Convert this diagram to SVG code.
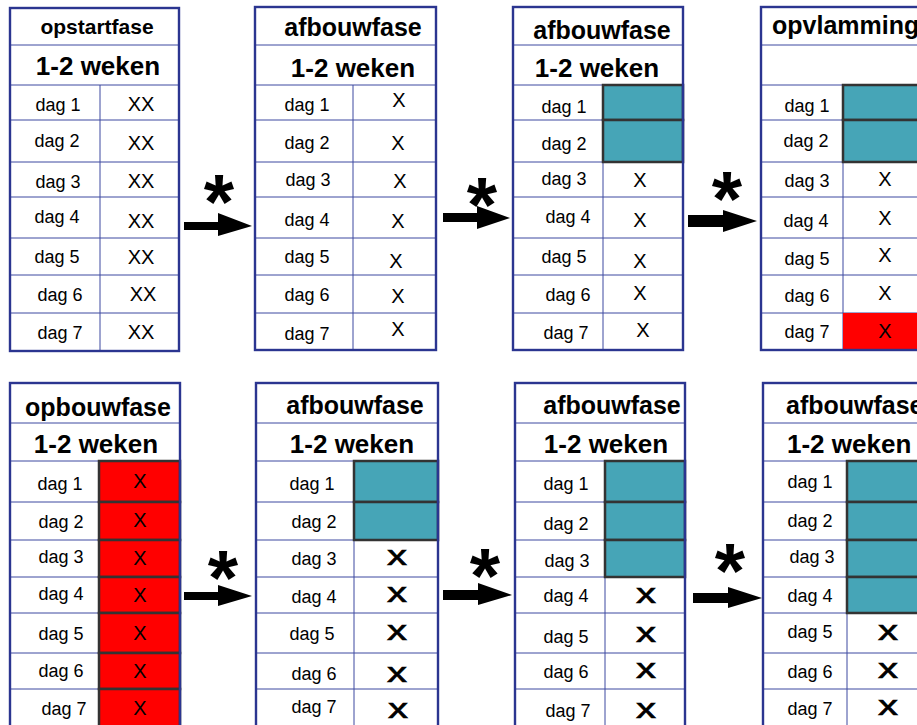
<svg xmlns="http://www.w3.org/2000/svg" width="917" height="725" viewBox="0 0 917 725">
<style>
.bg{fill:#ffffff}
.in{stroke:#3c48a0;stroke-width:1;fill:none}
.out{stroke:#2b3590;stroke-width:2.4;fill:none}
.teal{fill:#46a5b7;stroke:#333333;stroke-width:2.5}
.red{fill:#ff0000;stroke:#333333;stroke-width:2.5}
.redn{fill:#ff0000}
text{font-family:"Liberation Sans",Arial,sans-serif;fill:#000}
.t{font-size:25px;font-weight:bold;text-anchor:middle}
.ts{font-size:21px;font-weight:bold;text-anchor:middle}
.w{font-size:26px;font-weight:bold;text-anchor:middle}
.d{font-size:18px;text-anchor:middle}
.x{font-size:20px;text-anchor:middle}
.xb{font-size:27px;text-anchor:middle;stroke:#000;stroke-width:0.6}
.ast{font-size:78px;font-weight:bold;text-anchor:middle}
.arr{fill:#000}
</style>
<rect width="917" height="725" fill="#ffffff"/>

<g id="table1">
<rect class="bg" x="10" y="8" width="169" height="343"/>
<path class="in" d="M10 45H179M10 85H179M10 120H179M10 162H179M10 197H179M10 238H179M10 275H179M10 313H179M100 85V351"/>
<rect class="out" x="10" y="8" width="169" height="343"/>
<text class="ts" x="97" y="34">opstartfase</text>
<text class="w" x="98" y="75">1-2 weken</text>
<text class="d" x="58" y="111">dag 1</text><text class="x" x="141" y="111">XX</text>
<text class="d" x="57" y="147">dag 2</text><text class="x" x="141" y="150">XX</text>
<text class="d" x="58" y="188">dag 3</text><text class="x" x="141" y="188">XX</text>
<text class="d" x="57" y="223">dag 4</text><text class="x" x="141" y="228">XX</text>
<text class="d" x="57" y="263">dag 5</text><text class="x" x="141" y="264">XX</text>
<text class="d" x="60" y="301">dag 6</text><text class="x" x="143" y="301">XX</text>
<text class="d" x="60" y="339">dag 7</text><text class="x" x="141" y="339">XX</text>
</g>

<g id="table2">
<rect class="bg" x="255" y="7" width="181" height="343"/>
<path class="in" d="M255 45H436M255 85H436M255 120H436M255 162H436M255 197H436M255 238H436M255 275H436M255 313H436M353 85V350"/>
<rect class="out" x="255" y="7" width="181" height="343"/>
<text class="t" x="353" y="36">afbouwfase</text>
<text class="w" x="353" y="77">1-2 weken</text>
<text class="d" x="307" y="111">dag 1</text><text class="x" x="399" y="107">X</text>
<text class="d" x="307" y="149">dag 2</text><text class="x" x="398" y="150">X</text>
<text class="d" x="308" y="186">dag 3</text><text class="x" x="400" y="188">X</text>
<text class="d" x="307" y="226">dag 4</text><text class="x" x="398" y="228">X</text>
<text class="d" x="307" y="263">dag 5</text><text class="x" x="396" y="268">X</text>
<text class="d" x="307" y="301">dag 6</text><text class="x" x="398" y="303">X</text>
<text class="d" x="307" y="340">dag 7</text><text class="x" x="398" y="336">X</text>
</g>

<g id="table3">
<rect class="bg" x="513" y="7" width="170" height="343"/>
<path class="in" d="M513 45H683M513 85H683M513 120H683M513 162H683M513 197H683M513 238H683M513 275H683M513 313H683M603 85V350"/>
<rect class="teal" x="603" y="85" width="80" height="35"/>
<rect class="teal" x="603" y="120" width="80" height="42"/>
<rect class="out" x="513" y="7" width="170" height="343"/>
<text class="t" x="602" y="39">afbouwfase</text>
<text class="w" x="597" y="77">1-2 weken</text>
<text class="d" x="564" y="113">dag 1</text>
<text class="d" x="564" y="150">dag 2</text>
<text class="d" x="564" y="185">dag 3</text><text class="x" x="640" y="187">X</text>
<text class="d" x="568" y="223">dag 4</text><text class="x" x="640" y="227">X</text>
<text class="d" x="564" y="263">dag 5</text><text class="x" x="640" y="268">X</text>
<text class="d" x="568" y="301">dag 6</text><text class="x" x="640" y="300">X</text>
<text class="d" x="566" y="339">dag 7</text><text class="x" x="643" y="337">X</text>
</g>

<g id="table4">
<rect class="bg" x="761" y="7" width="170" height="343"/>
<path class="in" d="M761 45H931M761 85H931M761 120H931M761 162H931M761 197H931M761 238H931M761 275H931M761 313H931M843 85V350"/>
<rect class="teal" x="843" y="85" width="88" height="35"/>
<rect class="teal" x="843" y="120" width="88" height="42"/>
<rect class="redn" x="843" y="313" width="88" height="37"/>
<rect class="out" x="761" y="7" width="170" height="343"/>
<text class="t" x="772" y="34" style="text-anchor:start">opvlamming</text>
<text class="d" x="807" y="112">dag 1</text>
<text class="d" x="806" y="147">dag 2</text>
<text class="d" x="807" y="187">dag 3</text><text class="x" x="885" y="186">X</text>
<text class="d" x="806" y="227">dag 4</text><text class="x" x="885" y="225">X</text>
<text class="d" x="807" y="265">dag 5</text><text class="x" x="885" y="262">X</text>
<text class="d" x="807" y="302">dag 6</text><text class="x" x="885" y="300">X</text>
<text class="d" x="807" y="338">dag 7</text><text class="x" x="885" y="338">X</text>
</g>

<g id="table5">
<rect class="bg" x="10" y="383" width="170" height="360"/>
<path class="in" d="M10 423H180M10 461H180M10 502H180M10 540H180M10 577H180M10 613H180M10 653H180M10 689H180M99 461V743"/>
<rect class="red" x="99" y="461" width="81" height="41"/>
<rect class="red" x="99" y="502" width="81" height="38"/>
<rect class="red" x="99" y="540" width="81" height="37"/>
<rect class="red" x="99" y="577" width="81" height="36"/>
<rect class="red" x="99" y="613" width="81" height="40"/>
<rect class="red" x="99" y="653" width="81" height="36"/>
<rect class="red" x="99" y="689" width="81" height="50"/>
<rect class="out" x="10" y="383" width="170" height="360"/>
<text class="t" x="98" y="416">opbouwfase</text>
<text class="w" x="96" y="453">1-2 weken</text>
<text class="d" x="60" y="490">dag 1</text><text class="x" x="140" y="488">X</text>
<text class="d" x="61" y="528">dag 2</text><text class="x" x="140" y="527">X</text>
<text class="d" x="61" y="563">dag 3</text><text class="x" x="140" y="565">X</text>
<text class="d" x="61" y="600">dag 4</text><text class="x" x="140" y="602">X</text>
<text class="d" x="61" y="640">dag 5</text><text class="x" x="140" y="640">X</text>
<text class="d" x="61" y="677">dag 6</text><text class="x" x="140" y="678">X</text>
<text class="d" x="64" y="715">dag 7</text><text class="x" x="140" y="715">X</text>
</g>

<g id="table6">
<rect class="bg" x="256" y="383" width="182" height="360"/>
<path class="in" d="M256 423H438M256 461H438M256 502H438M256 540H438M256 577H438M256 613H438M256 653H438M256 689H438M354 461V743"/>
<rect class="teal" x="354" y="461" width="84" height="41"/>
<rect class="teal" x="354" y="502" width="84" height="38"/>
<rect class="out" x="256" y="383" width="182" height="360"/>
<text class="t" x="355" y="414">afbouwfase</text>
<text class="w" x="352" y="453">1-2 weken</text>
<text class="d" x="312" y="490">dag 1</text>
<text class="d" x="314" y="528">dag 2</text>
<text class="d" x="314" y="565">dag 3</text><text class="xb" x="397" y="565" textLength="20" lengthAdjust="spacingAndGlyphs">x</text>
<text class="d" x="314" y="603">dag 4</text><text class="xb" x="397" y="602" textLength="20" lengthAdjust="spacingAndGlyphs">x</text>
<text class="d" x="312" y="640">dag 5</text><text class="xb" x="397" y="640" textLength="20" lengthAdjust="spacingAndGlyphs">x</text>
<text class="d" x="314" y="680">dag 6</text><text class="xb" x="397" y="682" textLength="20" lengthAdjust="spacingAndGlyphs">x</text>
<text class="d" x="314" y="713">dag 7</text><text class="xb" x="398" y="718" textLength="20" lengthAdjust="spacingAndGlyphs">x</text>
</g>

<g id="table7">
<rect class="bg" x="515" y="383" width="170" height="360"/>
<path class="in" d="M515 423H685M515 461H685M515 502H685M515 540H685M515 577H685M515 613H685M515 653H685M515 689H685M605 461V743"/>
<rect class="teal" x="605" y="461" width="80" height="41"/>
<rect class="teal" x="605" y="502" width="80" height="38"/>
<rect class="teal" x="605" y="540" width="80" height="37"/>
<rect class="out" x="515" y="383" width="170" height="360"/>
<text class="t" x="612" y="414">afbouwfase</text>
<text class="w" x="606" y="453">1-2 weken</text>
<text class="d" x="566" y="490">dag 1</text>
<text class="d" x="566" y="530">dag 2</text>
<text class="d" x="567" y="567">dag 3</text>
<text class="d" x="566" y="602">dag 4</text><text class="xb" x="646" y="603" textLength="20" lengthAdjust="spacingAndGlyphs">x</text>
<text class="d" x="566" y="643">dag 5</text><text class="xb" x="646" y="642" textLength="20" lengthAdjust="spacingAndGlyphs">x</text>
<text class="d" x="566" y="678">dag 6</text><text class="xb" x="646" y="678" textLength="20" lengthAdjust="spacingAndGlyphs">x</text>
<text class="d" x="568" y="717">dag 7</text><text class="xb" x="646" y="718" textLength="20" lengthAdjust="spacingAndGlyphs">x</text>
</g>

<g id="table8">
<rect class="bg" x="763" y="383" width="170" height="360"/>
<path class="in" d="M763 423H933M763 461H933M763 502H933M763 540H933M763 577H933M763 613H933M763 653H933M763 689H933M847 461V743"/>
<rect class="teal" x="847" y="461" width="86" height="41"/>
<rect class="teal" x="847" y="502" width="86" height="38"/>
<rect class="teal" x="847" y="540" width="86" height="37"/>
<rect class="teal" x="847" y="577" width="86" height="36"/>
<rect class="out" x="763" y="383" width="170" height="360"/>
<text class="t" x="786" y="414" style="text-anchor:start">afbouwfase</text>
<text class="w" x="787" y="453" style="text-anchor:start">1-2 weken</text>
<text class="d" x="810" y="488">dag 1</text>
<text class="d" x="810" y="527">dag 2</text>
<text class="d" x="812" y="563">dag 3</text>
<text class="d" x="810" y="602">dag 4</text>
<text class="d" x="810" y="638">dag 5</text><text class="xb" x="888" y="640" textLength="20" lengthAdjust="spacingAndGlyphs">x</text>
<text class="d" x="810" y="678">dag 6</text><text class="xb" x="888" y="678" textLength="20" lengthAdjust="spacingAndGlyphs">x</text>
<text class="d" x="810" y="715">dag 7</text><text class="xb" x="888" y="715" textLength="20" lengthAdjust="spacingAndGlyphs">x</text>
</g>

<g id="connectors">
<polygon class="arr" points="184,222 218,222 218,213 252,226 218,236 218,230 184,230"/>
<polygon class="arr" points="443,213 477,213 477,206 510,218 477,229 477,222 443,222"/>
<polygon class="arr" points="688,215 723,215 723,210 757,221 723,232 723,227 688,227"/>
<polygon class="arr" points="184,592 218,592 218,585 252,596 218,606 218,600 184,600"/>
<polygon class="arr" points="443,590 478,590 478,583 512,595 478,605 478,600 443,600"/>
<polygon class="arr" points="693,593 728,593 728,587 762,598 728,608 728,603 693,603"/>
<text class="ast" x="219" y="229">*</text>
<text class="ast" x="482" y="232">*</text>
<text class="ast" x="727" y="226">*</text>
<text class="ast" x="223" y="605">*</text>
<text class="ast" x="485" y="603">*</text>
<text class="ast" x="730" y="598">*</text>
</g>
</svg>
